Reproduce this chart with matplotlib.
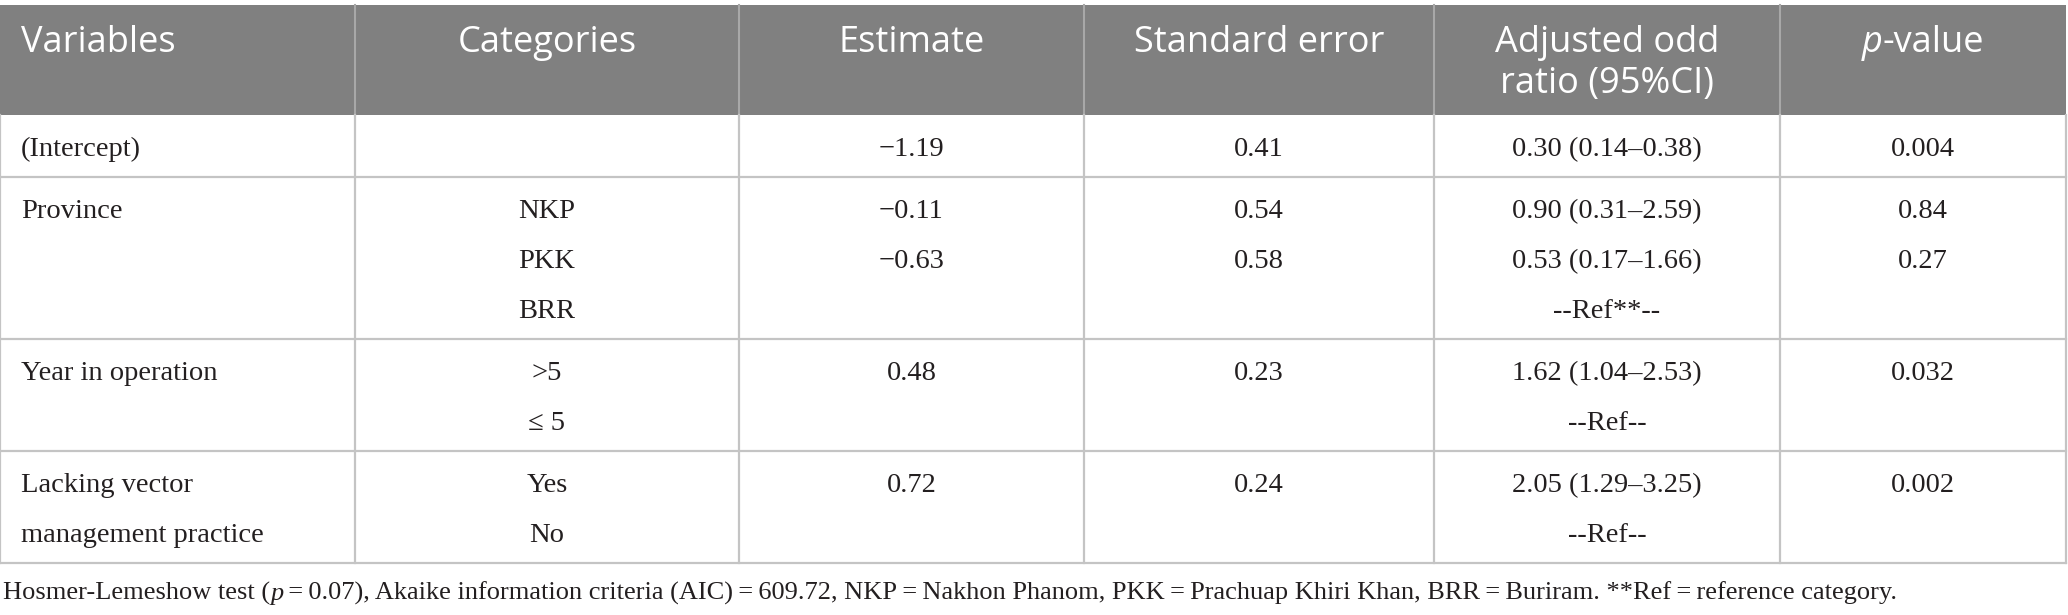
import matplotlib
matplotlib.use("Agg")
import matplotlib.pyplot as plt
from matplotlib.patches import Rectangle

# table content
headers = ['Variables', 'Categories', 'Estimate', 'Standard error',
           'Adjusted odd\nratio (95%CI)', 'p-value']
variables = ['(Intercept)', 'Province', 'Year in operation',
             'Lacking vector\nmanagement practice']
categories = [[''], ['NKP', 'PKK', 'BRR'], ['>5', '≤ 5'], ['Yes', 'No']]
estimates = [['−1.19'], ['−0.11', '−0.63', ''], ['0.48', ''], ['0.72', '']]
std_errors = [['0.41'], ['0.54', '0.58', ''], ['0.23', ''], ['0.24', '']]
odds_ratios = [['0.30 (0.14–0.38)'],
               ['0.90 (0.31–2.59)', '0.53 (0.17–1.66)', '--Ref**--'],
               ['1.62 (1.04–2.53)', '--Ref--'],
               ['2.05 (1.29–3.25)', '--Ref--']]
p_values = [['0.004'], ['0.84', '0.27', ''], ['0.032', ''], ['0.002', '']]
eq = '\u2009=\u2009'
footnote = [('Hosmer-Lemeshow test (', 'normal'), ('p', 'italic'),
            (eq + '0.07), Akaike information criteria (AIC)' + eq + '609.72, '
             'NKP' + eq + 'Nakhon Phanom, PKK' + eq + 'Prachuap Khiri Khan, BRR' + eq +
             'Buriram. **Ref' + eq + 'reference category.', 'normal')]

W, H = 2068, 615
col_edges = [0, 355, 739, 1084, 1434, 1780, 2066]
header_top, header_bot = 5, 114.5
line_h = 50
HEAD_FONT = 'Open Sans'
BODY_FONT = 'Liberation Serif'
head_size = 26
body_size = 20.5
foot_size = 19
txt_col = '#231f20'
grid_col = '#c4c4c4'

fig = plt.figure(figsize=(W / 100, H / 100), dpi=100)
ax = fig.add_axes([0, 0, 1, 1])
ax.set_xlim(0, W)
ax.set_ylim(H, 0)
ax.axis('off')
renderer = fig.canvas.get_renderer()


def pieces(x, y, parts, family, size, color, ha='left'):
    # draw a run of text pieces (for italic p) side by side
    arts = []
    for s, style in parts:
        arts.append(ax.text(0, y, s, family=family, fontsize=size,
                            style=style, color=color, va='baseline'))
    widths = []
    inv = ax.transData.inverted()
    for a in arts:
        bb = a.get_window_extent(renderer=renderer)
        x0 = inv.transform((bb.x0, 0))[0]
        x1 = inv.transform((bb.x1, 0))[0]
        widths.append(x1 - x0)
    total = sum(widths)
    cur = x - total / 2 if ha == 'center' else x
    for a, w in zip(arts, widths):
        a.set_x(cur)
        cur += w


# header band
ax.add_patch(Rectangle((0, header_top), col_edges[-1], header_bot - header_top,
                       facecolor='#808080', edgecolor='none'))
for xe in col_edges[1:-1]:
    ax.plot([xe, xe], [header_top, header_bot], color='#a8a8a8', lw=1.5)

for i, h in enumerate(headers):
    lines = h.split('\n')
    for k, ln in enumerate(lines):
        yb = 52 + 41 * k
        if i == 0:
            ax.text(col_edges[0] + 21, yb, ln, family=HEAD_FONT, fontsize=head_size,
                    color='white', va='baseline', ha='left')
        elif ln == 'p-value':
            cx = (col_edges[i] + col_edges[i + 1]) / 2
            pieces(cx, yb, [('p', 'italic'), ('-value', 'normal')],
                   HEAD_FONT, head_size, 'white', ha='center')
        else:
            cx = (col_edges[i] + col_edges[i + 1]) / 2
            ax.text(cx, yb, ln, family=HEAD_FONT, fontsize=head_size,
                    color='white', va='baseline', ha='center')

# body rows
columns = [categories, estimates, std_errors, odds_ratios, p_values]
top = header_bot
row_bounds = [top]
for r, var in enumerate(variables):
    n = len(categories[r])
    for k, ln in enumerate(var.split('\n')):
        ax.text(col_edges[0] + 21, top + 41.5 + line_h * k, ln, family=BODY_FONT,
                fontsize=body_size, color=txt_col, va='baseline', ha='left')
    for c, col in enumerate(columns):
        cx = (col_edges[c + 1] + col_edges[c + 2]) / 2
        for k, val in enumerate(col[r]):
            if val:
                ax.text(cx, top + 41.5 + line_h * k, val, family=BODY_FONT,
                        fontsize=body_size, color=txt_col, va='baseline', ha='center')
    top = top + 12 + line_h * n
    row_bounds.append(top)

# grid lines
for yb in row_bounds[1:]:
    ax.plot([col_edges[0], col_edges[-1]], [yb, yb], color=grid_col, lw=1.6)
for xe in col_edges:
    ax.plot([xe, xe], [header_bot, row_bounds[-1]], color=grid_col, lw=1.6)

# footnote
pieces(3, 600, footnote, BODY_FONT, foot_size, txt_col)

fig.savefig('out.png', dpi=100, facecolor='white')
